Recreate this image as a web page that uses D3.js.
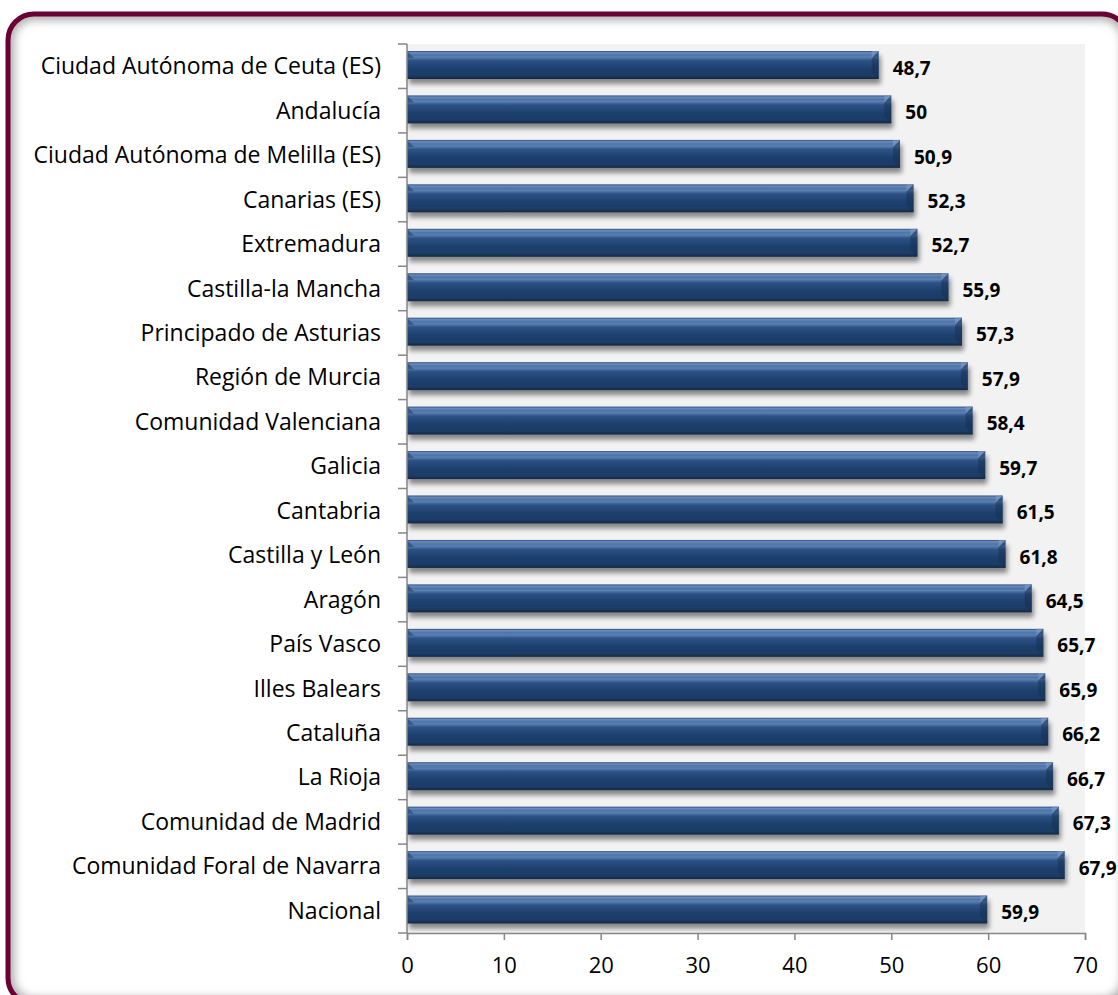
<!DOCTYPE html>
<html>
<head>
<meta charset="utf-8">
<script src="https://cdn.jsdelivr.net/npm/d3@7"></script>
<style>
  body { margin: 0; background: #fff; }
  svg { display: block; }
</style>
</head>
<body>
<script>
// data
var regions = ["Ciudad Autónoma de Ceuta (ES)", "Andalucía", "Ciudad Autónoma de Melilla (ES)",
  "Canarias (ES)", "Extremadura", "Castilla-la Mancha", "Principado de Asturias",
  "Región de Murcia", "Comunidad Valenciana", "Galicia", "Cantabria", "Castilla y León",
  "Aragón", "País Vasco", "Illes Balears", "Cataluña", "La Rioja", "Comunidad de Madrid",
  "Comunidad Foral de Navarra", "Nacional"];
var values = [48.7, 50, 50.9, 52.3, 52.7, 55.9, 57.3, 57.9, 58.4, 59.7, 61.5, 61.8,
  64.5, 65.7, 65.9, 66.2, 66.7, 67.3, 67.9, 59.9];
var xTicks = [0, 10, 20, 30, 40, 50, 60, 70];

var W = 1118, H = 995;
var margin = {left: 407, top: 44, right: 33, bottom: 62};
var width = W - margin.left - margin.right;   // 678
var height = H - margin.top - margin.bottom;  // 889

var svg = d3.select("body").append("svg")
  .attr("width", W)
  .attr("height", H);

var defs = svg.append("defs");

// bar gradient (cylinder look)
var grad = defs.append("linearGradient")
  .attr("id", "barGrad")
  .attr("x1", 0).attr("y1", 0).attr("x2", 0).attr("y2", 1);
[[0, "#2c4a78"], [0.06, "#6a8cbc"], [0.14, "#4f74a8"], [0.22, "#5b7fb1"], [0.34, "#2d5286"],
 [0.6, "#1f416f"], [0.88, "#1c3b66"], [0.95, "#17304f"], [1, "#1a2a40"]].forEach(function(s) {
  grad.append("stop").attr("offset", s[0]).attr("stop-color", s[1]);
});

var shadow = defs.append("filter").attr("id", "barShadow")
  .attr("x", "-5%").attr("y", "-30%").attr("width", "115%").attr("height", "190%");
shadow.append("feGaussianBlur").attr("in", "SourceAlpha").attr("stdDeviation", 2.5);
shadow.append("feOffset").attr("dx", 2).attr("dy", 5).attr("result", "off");
shadow.append("feComponentTransfer").append("feFuncA").attr("type", "linear").attr("slope", 0.45);
var mrg = shadow.append("feMerge");
mrg.append("feMergeNode");
mrg.append("feMergeNode").attr("in", "SourceGraphic");

var inner = defs.append("filter").attr("id", "innerBlur")
  .attr("x", "-5%").attr("y", "-5%").attr("width", "110%").attr("height", "110%");
inner.append("feGaussianBlur").attr("stdDeviation", 5);

defs.append("clipPath").attr("id", "frameClip")
  .append("rect")
  .attr("x", 8).attr("y", 14).attr("width", 1120).attr("height", 990)
  .attr("rx", 26).attr("ry", 26);

// frame
svg.append("rect")
  .attr("x", 8).attr("y", 14).attr("width", 1120).attr("height", 990)
  .attr("rx", 26).attr("ry", 26)
  .attr("fill", "#fff");

svg.append("g").attr("clip-path", "url(#frameClip)")
  .append("rect")
  .attr("x", 8).attr("y", 14).attr("width", 1120).attr("height", 990)
  .attr("rx", 26).attr("ry", 26)
  .attr("fill", "none")
  .attr("stroke", "#a8a8a8")
  .attr("stroke-width", 12)
  .attr("filter", "url(#innerBlur)");

svg.append("rect")
  .attr("x", 8).attr("y", 14).attr("width", 1120).attr("height", 990)
  .attr("rx", 26).attr("ry", 26)
  .attr("fill", "none")
  .attr("stroke", "#6b0035")
  .attr("stroke-width", 5);

var g = svg.append("g")
  .attr("transform", "translate(" + margin.left + "," + margin.top + ")");

// scales
var x = d3.scaleLinear().domain([0, 70]).range([0, width]);
var y = d3.scaleBand().domain(regions).range([0, height]).paddingInner(0).paddingOuter(0);

// plot background
g.append("rect")
  .attr("x", 0).attr("y", 0)
  .attr("width", x(70)).attr("height", height)
  .attr("fill", "#f2f2f2");

var barH = 28, barOff = 7;

var bars = g.selectAll(".bar")
  .data(values)
  .enter().append("g")
  .attr("class", "bar")
  .attr("transform", function(d, i) { return "translate(0," + (y(regions[i]) + barOff) + ")"; });

bars.append("rect")
  .attr("x", x(0))
  .attr("y", 0)
  .attr("width", function(d) { return x(d) - x(0); })
  .attr("height", barH)
  .attr("fill", "url(#barGrad)")
  .attr("filter", "url(#barShadow)");

// bevel on the right end
bars.append("path")
  .attr("d", function(d) {
    var r = x(d), b = 7;
    return "M" + (r - b) + "," + b + " L" + r + ",0 L" + r + "," + barH + " L" + (r - b) + "," + (barH - b) + " Z";
  })
  .attr("fill", "#16304f")
  .attr("opacity", 0.5);

bars.append("path")
  .attr("d", function(d) {
    var r = x(d), b = 7;
    return "M" + (r - b) + "," + b + " L" + r + ",0 L" + (r - b) + ",0 Z";
  })
  .attr("fill", "#7f9cc6")
  .attr("opacity", 0.6);

// bevel on the left end
bars.append("path")
  .attr("d", function() {
    var l = x(0), b = 7;
    return "M" + l + ",0 L" + (l + b) + "," + b + " L" + l + "," + b + " Z";
  })
  .attr("fill", "#2a4a78")
  .attr("opacity", 0.7);

// value labels
bars.append("text")
  .attr("x", function(d) { return x(d) + 14; })
  .attr("y", barH / 2 + 3)
  .attr("dy", "0.35em")
  .style("font-family", "'Open Sans', sans-serif")
  .style("font-weight", "bold")
  .style("font-size", "19px")
  .style("fill", "#000")
  .text(function(d) { return String(d).replace(".", ","); });

// y axis
g.append("line")
  .attr("x1", 0).attr("x2", 0).attr("y1", 0).attr("y2", height)
  .attr("stroke", "#868686").attr("stroke-width", 1.5);

var yEdges = regions.map(function(r) { return y(r); }).concat([height]);
g.selectAll(".ytick")
  .data(yEdges)
  .enter().append("line")
  .attr("x1", -9).attr("x2", 0)
  .attr("y1", function(d) { return d; })
  .attr("y2", function(d) { return d; })
  .attr("stroke", "#868686").attr("stroke-width", 1.5);

g.selectAll(".ylab")
  .data(regions)
  .enter().append("text")
  .attr("x", -26)
  .attr("y", function(d) { return y(d) + y.bandwidth() / 2; })
  .attr("dy", "0.35em")
  .attr("text-anchor", "end")
  .style("font-family", "'Open Sans', sans-serif")
  .style("font-size", "23px")
  .style("fill", "#000")
  .text(function(d) { return d; });

// x axis
var xAxis = d3.axisBottom(x).tickValues(xTicks).tickSize(7).tickPadding(17)
  .tickFormat(d3.format("d"));
var xa = g.append("g")
  .attr("transform", "translate(0," + height + ")")
  .call(xAxis);
xa.select(".domain").attr("stroke", "#868686").attr("stroke-width", 1.5);
xa.selectAll(".tick line").attr("stroke", "#868686").attr("stroke-width", 1.5);
xa.selectAll(".tick text")
  .style("font-family", "'Open Sans', sans-serif")
  .style("font-size", "22px")
  .style("fill", "#000");
</script>
</body>
</html>
